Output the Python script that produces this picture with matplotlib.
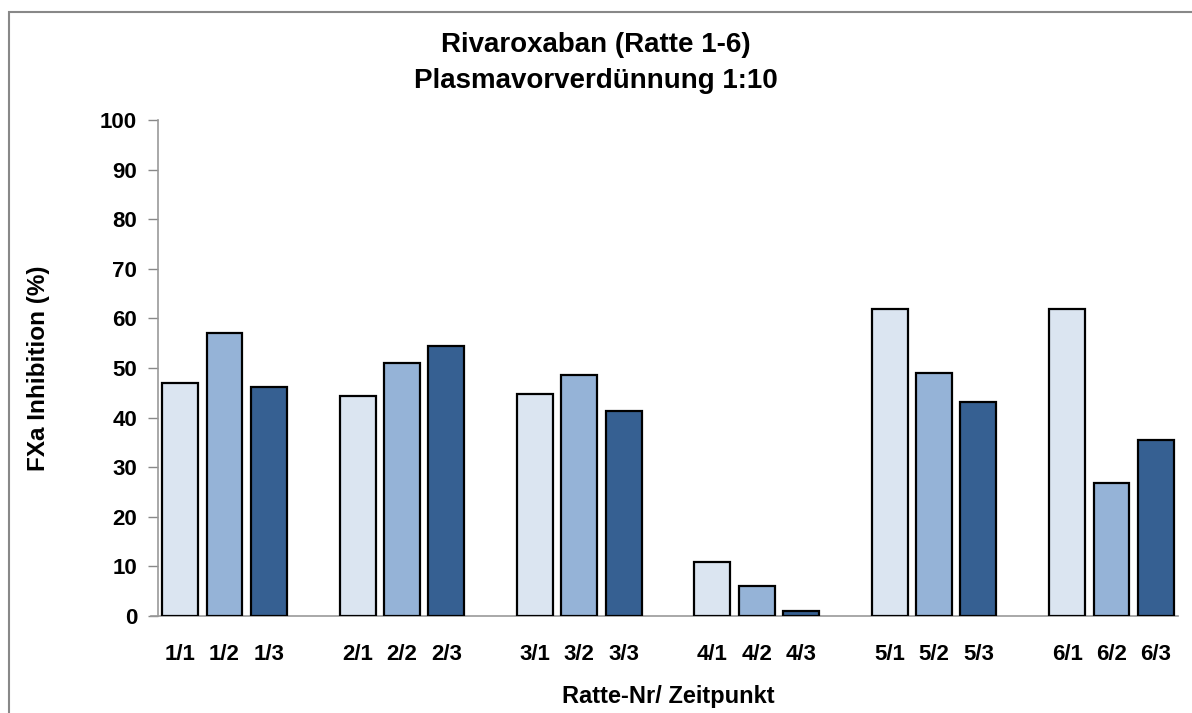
import matplotlib
matplotlib.use("Agg")
import matplotlib.pyplot as plt
from matplotlib.patches import Rectangle
import numpy as np

plt.rcParams['font.family'] = ['Liberation Sans', 'DejaVu Sans']

groups = ["1", "2", "3", "4", "5", "6"]
timepoints = ["1", "2", "3"]
values_t1 = [47.0, 44.4, 44.8, 10.8, 61.9, 61.9]
values_t2 = [57.0, 51.1, 48.5, 6.0, 48.9, 26.9]
values_t3 = [46.2, 54.4, 41.4, 1.1, 43.2, 35.4]
series = [values_t1, values_t2, values_t3]
colors = ["#dbe5f1", "#95b3d7", "#366092"]
yticks = list(range(0, 101, 10))

fig = plt.figure(figsize=(11.92, 7.13), dpi=100)
ax = fig.add_axes([158/1192, 1 - 616/713, (1178-158)/1192, (616-120)/713])

positions = []
labels = []
for gi, g in enumerate(groups):
    for ti, t in enumerate(timepoints):
        positions.append(gi * 4 + ti)
        labels.append(f"{g}/{t}")

for ti in range(3):
    xs = [gi * 4 + ti for gi in range(len(groups))]
    ax.bar(xs, series[ti], width=0.81, color=colors[ti], edgecolor="black", linewidth=1.6, zorder=3)

ax.set_xlim(-0.5, 22.5)
ax.set_ylim(0, 100)
ax.set_yticks(yticks)
ax.set_yticklabels([str(v) for v in yticks], fontsize=16, fontweight="bold")
ax.set_xticks(positions)
ax.set_xticklabels(labels, fontsize=16, fontweight="bold")
ax.tick_params(axis="x", length=0, pad=20)
ax.tick_params(axis="y", length=7, width=1, color="#888888", pad=8)

for s in ["top", "right"]:
    ax.spines[s].set_visible(False)
for s in ["left", "bottom"]:
    ax.spines[s].set_color("#999999")
    ax.spines[s].set_linewidth(1.2)
ax.spines["bottom"].set_bounds(-0.65, 22.5)

ax.set_ylabel("FXa Inhibition (%)", fontsize=17.5, fontweight="bold")
ax.yaxis.set_label_coords(-(158-38.5)/1020, 0.5)
ax.yaxis.label.set_va("center")
ax.set_xlabel("Ratte-Nr/ Zeitpunkt", fontsize=17, fontweight="bold")
ax.xaxis.set_label_coords(0.5, -(696-616)/496)
ax.xaxis.label.set_va("center")

fig.text(0.5, 1 - 45/713, "Rivaroxaban (Ratte 1-6)", ha="center", va="center", fontsize=20, fontweight="bold")
fig.text(0.5, 1 - 81/713, "Plasmavorverdünnung 1:10", ha="center", va="center", fontsize=20, fontweight="bold")

fig.add_artist(Rectangle((8.5/1192, -0.1), 2, 1.1 - 12.5/713, transform=fig.transFigure,
                         fill=False, edgecolor="#888888", linewidth=1.5))

fig.savefig("out.png", dpi=100)
